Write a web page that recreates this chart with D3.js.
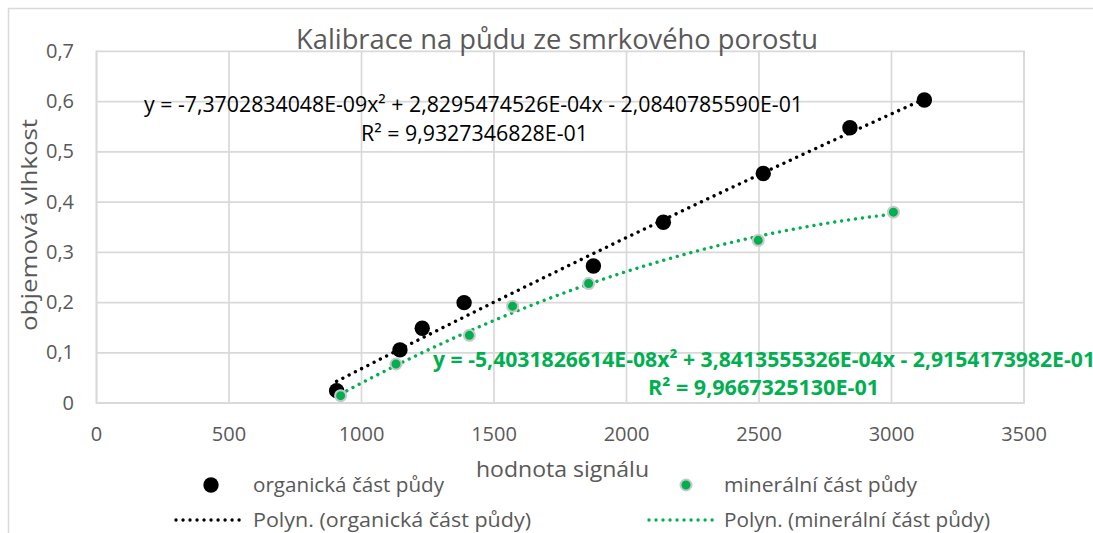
<!DOCTYPE html>
<html>
<head>
<meta charset="utf-8">
<script src="https://d3js.org/d3.v7.min.js"></script>
<style>
  body { margin:0; background:#fff; }
  svg { display:block; font-family:"Open Sans", sans-serif; }
</style>
</head>
<body>
<svg width="1093" height="533"></svg>
<script>

// data
const organicX=[908,1147,1231,1389,1877,2141,2518,2845,3126];
const organicY=[0.024,0.105,0.148,0.199,0.272,0.359,0.456,0.547,0.602];
const mineralX=[923,1132,1409,1572,1859,2499,3009];
const mineralY=[0.014,0.077,0.134,0.192,0.237,0.323,0.379];

// trendline coefficients as printed on the chart [a,b,c] for a*x^2+b*x+c
const organicFit=[-7.3702834048e-09,2.8295474526e-04,-2.0840785590e-01];
const mineralFit=[-5.4031826614e-08,3.8413555326e-04,-2.9154173982e-01];

const xTicks=[0,500,1000,1500,2000,2500,3000,3500];
const yTicks=[0,0.1,0.2,0.3,0.4,0.5,0.6,0.7];

const titleText="Kalibrace na půdu ze smrkového porostu";
const xTitle="hodnota signálu";
const yTitle="objemová vlhkost";
const organicName="organická část půdy";
const mineralName="minerální část půdy";
const organicEq="y = -7,3702834048E-09x² + 2,8295474526E-04x - 2,0840785590E-01";
const organicR2="R² = 9,9327346828E-01";
const mineralEq="y = -5,4031826614E-08x² + 3,8413555326E-04x - 2,9154173982E-01";
const mineralR2="R² = 9,9667325130E-01";

const green="#00B050";
const grey="#595959";
const gridColor="#D9D9D9";

const plot={left:96,right:1023.5,top:50.8,bottom:402.7};

const xScale=d3.scaleLinear().domain([0,3500]).range([plot.left,plot.right]);
const yScale=d3.scaleLinear().domain([0,0.7]).range([plot.bottom,plot.top]);

const svg=d3.select("svg");

// outer chart border (runs off the right and bottom of the picture)
svg.append("rect")
.attr("x",8.5).attr("y",8.5)
.attr("width",1200).attr("height",600)
.attr("fill","none")
.attr("stroke",gridColor)
.attr("stroke-width",1.5);

const fmt=d=>String(+d.toFixed(1)).replace(".",",");

// horizontal grid + y labels
const yAxis=svg.append("g")
.attr("class","yAxis")
.attr("transform",`translate(${plot.left},0)`)
.call(d3.axisLeft(yScale).tickValues(yTicks).tickSize(-(plot.right-plot.left)).tickPadding(22).tickFormat(fmt));
yAxis.select(".domain").remove();
yAxis.selectAll("line").attr("stroke",gridColor).attr("stroke-width",1.7);
yAxis.selectAll("text").attr("fill",grey).style("font-size","20px").style("font-family","Open Sans");

// vertical grid + x labels
const xAxis=svg.append("g")
.attr("class","xAxis")
.attr("transform",`translate(0,${plot.bottom})`)
.call(d3.axisBottom(xScale).tickValues(xTicks).tickSize(-(plot.bottom-plot.top)).tickPadding(24).tickFormat(d=>d));
xAxis.select(".domain").attr("stroke",gridColor).attr("stroke-width",1.7);
xAxis.selectAll("line").attr("stroke",gridColor).attr("stroke-width",1.7);
xAxis.selectAll("text").attr("fill",grey).style("font-size","20px").style("font-family","Open Sans");

// title
svg.append("text")
.text(titleText)
.attr("x",557).attr("y",48.5)
.attr("text-anchor","middle")
.attr("fill",grey)
.attr("textLength",522)
.attr("lengthAdjust","spacingAndGlyphs")
.style("font-size","27px");

// axis titles
svg.append("text")
.text(xTitle)
.attr("x",562.5).attr("y",477)
.attr("text-anchor","middle")
.attr("fill",grey)
.attr("textLength",173)
.attr("lengthAdjust","spacingAndGlyphs")
.style("font-size","22px");

svg.append("text")
.text(yTitle)
.attr("transform","translate(37,225) rotate(-90)")
.attr("text-anchor","middle")
.attr("fill",grey)
.attr("textLength",212)
.attr("lengthAdjust","spacingAndGlyphs")
.style("font-size","22px");

// trendlines
const poly=(c,x)=>c[0]*x*x+c[1]*x+c[2];
const line=d3.line().x(d=>xScale(d[0])).y(d=>yScale(d[1])).curve(d3.curveLinear);

function trend(xs,coef,color){
  const lo=d3.min(xs),hi=d3.max(xs);
  const pts=d3.range(0,61).map(i=>{
    const x=lo+(hi-lo)*i/60;
    return [x,poly(coef,x)];
  });
  svg.append("path")
  .datum(pts)
  .attr("d",line)
  .attr("fill","none")
  .attr("stroke",color)
  .attr("stroke-width",3.4)
  .attr("stroke-linecap","round")
  .attr("stroke-dasharray","0.01 7");
}
trend(organicX,organicFit,"#000");
trend(mineralX,mineralFit,green);

// markers
svg.append("g")
.selectAll("circle")
.data(organicX.map((x,i)=>[x,organicY[i]]))
.enter()
.append("circle")
.attr("cx",d=>xScale(d[0]))
.attr("cy",d=>yScale(d[1]))
.attr("r",7.7)
.attr("fill","#000");

svg.append("g")
.selectAll("circle")
.data(mineralX.map((x,i)=>[x,mineralY[i]]))
.enter()
.append("circle")
.attr("cx",d=>xScale(d[0]))
.attr("cy",d=>yScale(d[1]))
.attr("r",5.5)
.attr("fill",green)
.attr("stroke","#C8C8C8")
.attr("stroke-width",2);

// equation labels
svg.append("text").text(organicEq)
.attr("x",144).attr("y",111.5)
.attr("fill","#000")
.attr("textLength",659).attr("lengthAdjust","spacingAndGlyphs")
.style("font-size","21px");
svg.append("text").text(organicR2)
.attr("x",361).attr("y",141)
.attr("fill","#000")
.attr("textLength",227).attr("lengthAdjust","spacingAndGlyphs")
.style("font-size","21px");

svg.append("text").text(mineralEq)
.attr("x",433).attr("y",367)
.attr("fill",green)
.attr("font-weight","bold")
.attr("textLength",662).attr("lengthAdjust","spacingAndGlyphs")
.style("font-size","21px");
svg.append("text").text(mineralR2)
.attr("x",648).attr("y",395)
.attr("fill",green)
.attr("font-weight","bold")
.attr("textLength",231).attr("lengthAdjust","spacingAndGlyphs")
.style("font-size","21px");

// legend
const legend=svg.append("g").attr("class","legend");
const legendItems=[
  {name:organicName,kind:"dot",color:"#000",x:211,y:485,tx:253,len:191,r:7.7},
  {name:mineralName,kind:"dot",color:green,x:686,y:485,tx:724,len:193,r:5.5},
  {name:"Polyn. ("+organicName+")",kind:"line",color:"#000",x:176,y:520,tx:253,len:278},
  {name:"Polyn. ("+mineralName+")",kind:"line",color:green,x:649,y:520,tx:724,len:266}
];
legendItems.forEach(it=>{
  if(it.kind=="dot"){
    legend.append("circle")
    .attr("cx",it.x).attr("cy",it.y).attr("r",it.r)
    .attr("fill",it.color)
    .attr("stroke",it.color==green?"#C8C8C8":"none")
    .attr("stroke-width",2);
  } else {
    legend.append("line")
    .attr("x1",it.x).attr("x2",it.x+66)
    .attr("y1",it.y).attr("y2",it.y)
    .attr("stroke",it.color)
    .attr("stroke-width",3.4)
    .attr("stroke-linecap","round")
    .attr("stroke-dasharray","0.01 7");
  }
  legend.append("text")
  .text(it.name)
  .attr("x",it.tx).attr("y",it.y+6.5)
  .attr("fill",grey)
  .attr("textLength",it.len).attr("lengthAdjust","spacingAndGlyphs")
  .style("font-size","20px");
});

</script>
</body>
</html>
